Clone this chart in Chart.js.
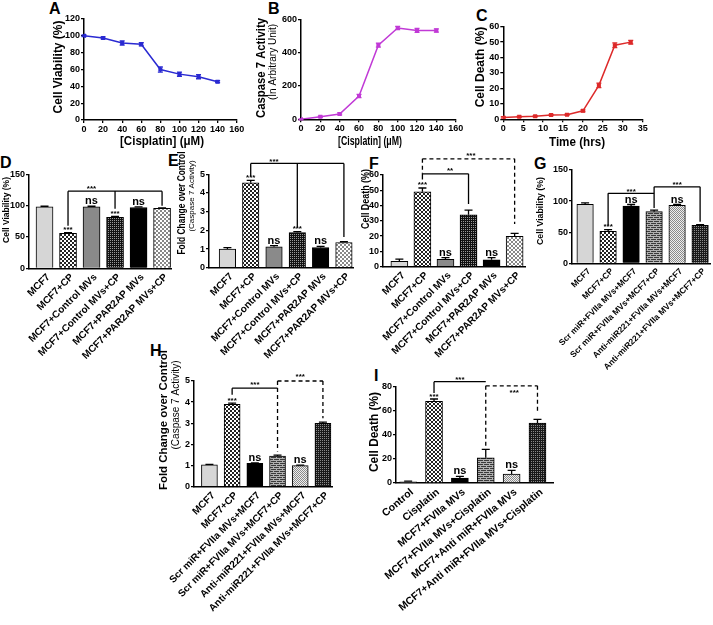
<!DOCTYPE html>
<html>
<head>
<meta charset="utf-8">
<script src="https://cdn.jsdelivr.net/npm/chart.js@4"></script>
<style>
  body { margin: 0; background: #fff; width: 713px; height: 625px; position: relative; overflow: hidden; }
  .let { position: absolute; font: bold 16px "Liberation Sans", Arial, sans-serif; line-height: 16px; }
</style>
</head>
<body>
<div class="let" style="left:49px;top:1px">A</div>
<div class="let" style="left:268px;top:1px">B</div>
<div class="let" style="left:476px;top:8px">C</div>
<div class="let" style="left:0px;top:155px">D</div>
<div class="let" style="left:168px;top:153px">E</div>
<div class="let" style="left:369px;top:156px">F</div>
<div class="let" style="left:534px;top:156px">G</div>
<div class="let" style="left:150px;top:343px">H</div>
<div class="let" style="left:374px;top:368px">I</div>
<script>
// dose / time curves (A-C)
const doseA = [0, 20, 40, 60, 80, 100, 120, 140];
const viabA = [100, 97.5, 91.5, 90, 60, 54.5, 51.5, 45.5];
const viabAErr = [1, 1.2, 2.5, 2, 3, 2.5, 2.5, 1.2];
const caspB = [0, 15, 32, 140, 445, 548, 533, 533];
const caspBErr = [3, 4, 6, 10, 12, 10, 12, 10];
const timeC = [0, 4, 8, 12, 16, 20, 24, 28, 32];
const deathC = [1.2, 1.6, 2.0, 2.8, 3.0, 5.5, 22, 48, 50];
const deathCErr = [0.5, 0.4, 0.4, 0.4, 0.4, 0.6, 1.5, 1.5, 1.2];

// PAR2AP experiments (D-F)
const labelsDEF = ["MCF7", "MCF7+CP", "MCF7+Control MVs", "MCF7+Control MVs+CP", "MCF7+PAR2AP MVs", "MCF7+PAR2AP MVs+CP"];
const viabD = [98, 56, 98, 81.5, 97, 95.5];
const viabDErr = [1, 1, 1, 1.5, 1, 1];
const sigD = ["", "***", "ns", "***", "ns", ""];
const foldE = [1.0, 4.55, 1.12, 1.88, 1.08, 1.35];
const foldEErr = [0.08, 0.12, 0.06, 0.05, 0.06, 0.04];
const sigE = ["", "***", "ns", "***", "ns", ""];
const deathF = [3.5, 49, 4.8, 34, 4.5, 19.8];
const deathFErr = [1.5, 2.5, 1.2, 3, 1.5, 2];
const sigF = ["", "***", "ns", "", "ns", ""];

// miR221 experiments (G-I)
const labelsGH = ["MCF7", "MCF7+CP", "Scr miR+FVIIa MVs+MCF7", "Scr miR+FVIIa MVs+MCF7+CP", "Anti-miR221+FVIIa MVs+MCF7", "Anti-miR221+FVIIa MVs+MCF7+CP"];
const viabG = [95, 51.5, 92, 83, 93, 61];
const viabGErr = [2, 2.5, 2.5, 2.5, 1.5, 1];
const sigG = ["", "***", "ns", "", "ns", ""];
const foldH = [1.03, 3.9, 1.1, 1.45, 1.0, 3.0];
const foldHErr = [0.03, 0.05, 0.03, 0.04, 0.02, 0.05];
const sigH = ["", "***", "ns", "", "ns", ""];
const labelsI = ["Control", "Cisplatin", "MCF7+FVIIa MVs", "MCF7+FVIIa MVs+Cisplatin", "MCF7+Anti miR+FVIIa MVs", "MCF7+Anti miR+FVIIa MVs+Cisplatin"];
const deathI = [1, 68, 4, 21, 7.5, 50];
const deathIErr = [0.5, 2, 1.5, 7, 3, 3];
const sigI = ["", "***", "ns", "", "ns", ""];

// significance brackets: pts = [bar index, value where the drop ends]
const bracketsD = [{ y: 123, pts: [[1, 68], [3, 95], [5, 100]], label: "***", at: 2, ly: 128 }];
const bracketsE = [{ y: 5.58, pts: [[1, 4.9], [3, 2.15], [5, 1.65]], label: "***", at: 2, ly: 5.7 }];
const bracketsF = [
  { y: 60.8, pts: [[1, 57], [3, 41]], label: "**", at: 2.2, ly: 63 },
  { y: 70.6, pts: [[1, 60.8], [5, 28]], label: "***", at: 3.1, ly: 73, dashed: true }
];
const bracketsG = [
  { y: 112.5, pts: [[1, 61], [3, 112.5]], label: "***", at: 2, ly: 117 },
  { y: 123, pts: [[3, 89], [5, 67]], label: "***", at: 4, ly: 127 }
];
const bracketsH = [
  { y: 4.66, pts: [[1, 4.35], [3, 4.66]], label: "***", at: 2, ly: 4.85 },
  { y: 5.0, pts: [[3, 1.66], [5, 3.24]], label: "***", at: 4, ly: 5.25, dashed: true }
];
const bracketsI = [
  { y: 84.4, pts: [[1, 75], [3, 84.4]], label: "***", at: 2, ly: 87 },
  { y: 81, pts: [[3, 30], [5, 59]], label: "***", at: 4.1, ly: 76, dashed: true }
];

Chart.defaults.font.family = '"Liberation Sans", Arial, sans-serif';
Chart.defaults.color = "#000";

function pattern(w, h, bg, fg, cells) {
  const c = document.createElement("canvas");
  c.width = w; c.height = h;
  const g = c.getContext("2d");
  g.fillStyle = bg; g.fillRect(0, 0, w, h);
  g.fillStyle = fg;
  cells.forEach(r => g.fillRect(r[0], r[1], r[2], r[3]));
  return g.createPattern(c, "repeat");
}
const checker = pattern(4, 4, "#fff", "#222", [[0, 0, 2, 2], [2, 2, 2, 2]]);
const darkChecker = pattern(4, 4, "#111", "#999", [[0, 0, 1, 1], [2, 2, 1, 1], [2, 0, 1, 1], [0, 2, 1, 1]]);
const lightChecker = pattern(4, 4, "#fff", "#888", [[0, 0, 2, 2], [2, 2, 2, 2]]);
const brick = pattern(6, 4, "#3a3a3a", "#b0b0b0", [[0, 0, 6, 1], [0, 1, 1, 1], [0, 2, 6, 1], [3, 3, 1, 1]]);
const lightDots = pattern(2, 2, "#eee", "#8a8a8a", [[0, 0, 1, 1], [1, 1, 1, 1]]);
const darkDots = pattern(2, 2, "#1a1a1a", "#8a8a8a", [[0, 0, 1, 1]]);

const fillsDEF = ["#d6d6d6", checker, "#8a8a8a", darkChecker, "#000", lightChecker];
const fillsGHI = ["#d6d6d6", checker, "#000", brick, lightDots, darkDots];

const decor = {
  id: "decor",
  afterDraw(chart, args, o) {
    const ctx = chart.ctx;
    const xs = chart.scales.x, ys = chart.scales.y;
    const ox = o.box[0], oy = o.box[1];
    ctx.save();
    chart.data.datasets.forEach((ds, di) => {
      const meta = chart.getDatasetMeta(di);
      meta.data.forEach((el, i) => {
        const e = ds.errs[i], v = ds.data[i].y;
        const yT = ys.getPixelForValue(v + e);
        const yB = ys.getPixelForValue(o.bars ? v : v - e);
        ctx.strokeStyle = o.bars ? "#000" : ds.borderColor;
        ctx.lineWidth = 1.3;
        ctx.setLineDash([]);
        ctx.beginPath();
        ctx.moveTo(el.x, yB); ctx.lineTo(el.x, yT);
        ctx.moveTo(el.x - o.cap, yT); ctx.lineTo(el.x + o.cap, yT);
        if (!o.bars) { ctx.moveTo(el.x - o.cap, yB); ctx.lineTo(el.x + o.cap, yB); }
        ctx.stroke();
        const s = o.sig ? o.sig[i] : "";
        if (s) {
          ctx.fillStyle = "#000";
          ctx.textAlign = "center";
          ctx.textBaseline = "alphabetic";
          if (s === "ns") { ctx.font = 'bold 11px "Liberation Sans", Arial'; ctx.fillText(s, el.x, yT - 2); }
          else { ctx.font = 'bold 8px "Liberation Sans", Arial'; ctx.fillText(s, el.x, yT - 0.5); }
        }
      });
    });
    (o.brackets || []).forEach(b => {
      ctx.strokeStyle = "#000"; ctx.lineWidth = 1.3;
      ctx.setLineDash(b.dashed ? [4, 3] : []);
      const yb = ys.getPixelForValue(b.y);
      ctx.beginPath();
      ctx.moveTo(xs.getPixelForValue(b.pts[0][0]), yb);
      ctx.lineTo(xs.getPixelForValue(b.pts[b.pts.length - 1][0]), yb);
      b.pts.forEach(p => {
        const px = xs.getPixelForValue(p[0]);
        ctx.moveTo(px, yb); ctx.lineTo(px, ys.getPixelForValue(p[1]));
      });
      ctx.stroke();
      ctx.setLineDash([]);
      ctx.fillStyle = "#000";
      ctx.font = 'bold 8px "Liberation Sans", Arial';
      ctx.textAlign = "center"; ctx.textBaseline = "alphabetic";
      ctx.fillText(b.label, xs.getPixelForValue(b.at), ys.getPixelForValue(b.ly) + 3);
    });
    (o.titles || []).forEach(t => {
      ctx.save();
      ctx.translate(t.x - ox, t.y - oy);
      if (t.rot) ctx.rotate(-Math.PI / 2);
      ctx.fillStyle = "#000";
      ctx.font = t.font + ' "Liberation Sans", Arial';
      ctx.textAlign = "center"; ctx.textBaseline = "middle";
      ctx.fillText(t.text, 0, 0, t.w);
      ctx.restore();
    });
    ctx.restore();
  }
};

function yAxis(max, step) {
  return {
    type: "linear", min: 0, max: max, offset: false,
    ticks: { stepSize: step, padding: 1, autoSkip: false, maxRotation: 0, font: { size: 9, weight: "bold" }, color: "#000" },
    grid: { display: true, drawOnChartArea: false, drawTicks: true, tickLength: 3, color: "#000", lineWidth: 1.3 },
    border: { display: true, color: "#000", width: 1.5 }
  };
}
function xLin(max, step) {
  return yAxis(max, step);
}
function xCat(labels, min, max, rot, size) {
  return {
    type: "linear", min: min, max: max, offset: false,
    afterBuildTicks: s => { s.ticks = labels.map((_, i) => ({ value: i })); },
    ticks: {
      autoSkip: false, minRotation: rot, maxRotation: rot, padding: 3, labelOffset: 4,
      font: { size: size, weight: "bold" }, color: "#000",
      callback: v => labels[Math.round(v)]
    },
    grid: { display: false, drawTicks: false, offset: false },
    border: { display: true, color: "#000", width: 1.5 }
  };
}

// box = canvas [left, top, w, h]; area = plot edges in page px
function panel(box, area, cfg) {
  const c = document.createElement("canvas");
  c.width = box[2]; c.height = box[3];
  c.style.cssText = "position:absolute;left:" + box[0] + "px;top:" + box[1] + "px;width:" + box[2] + "px;height:" + box[3] + "px";
  document.body.appendChild(c);
  const yW = area.l - box[0];
  const xH = box[1] + box[3] - area.b;
  cfg.options.responsive = false;
  cfg.options.animation = false;
  cfg.options.devicePixelRatio = 1;
  cfg.options.layout = { padding: { left: 0, top: area.t - box[1], right: box[0] + box[2] - area.r, bottom: 0 } };
  cfg.options.scales.y.afterFit = s => { s.width = yW; s.paddingTop = 0; s.paddingBottom = 0; };
  cfg.options.scales.x.afterFit = s => { s.height = xH; s.paddingLeft = 0; s.paddingRight = 0; };
  cfg.options.plugins = cfg.options.plugins || {};
  cfg.options.plugins.legend = { display: false };
  cfg.options.plugins.tooltip = { enabled: false };
  cfg.options.plugins.decor.box = box;
  cfg.plugins = [decor];
  return new Chart(c, cfg);
}

function lineCfg(xv, yv, ev, color, xAx, yAx, titles) {
  return {
    type: "line",
    data: { datasets: [{
      data: xv.map((x, i) => ({ x: x, y: yv[i] })), errs: ev,
      borderColor: color, backgroundColor: color, borderWidth: 1.5,
      pointStyle: "rect", pointRadius: 1.8, pointBackgroundColor: color, pointBorderColor: color, tension: 0
    }] },
    options: { scales: { x: xAx, y: yAx }, plugins: { decor: { cap: 2.5, titles: titles } } }
  };
}

function barCfg(vals, errs, fills, xAx, yAx, thick, sig, brackets, titles) {
  return {
    type: "bar",
    data: { datasets: [{
      data: vals.map((v, i) => ({ x: i, y: v })), errs: errs,
      backgroundColor: fills, borderColor: "#000", borderWidth: 1, barThickness: thick
    }] },
    options: { scales: { x: xAx, y: yAx }, plugins: { decor: { bars: true, cap: 4, sig: sig, brackets: brackets, titles: titles } } }
  };
}

// A
panel([40, 0, 210, 150], { l: 84, r: 236.7, t: 19, b: 120 },
  lineCfg(doseA, viabA, viabAErr, "#2a2ad2", xLin(160, 20), yAxis(120, 20), [
    { text: "Cell Viability (%)", x: 59, y: 67, rot: true, font: "bold 12px", w: 93 },
    { text: "[Cisplatin] (\u03bcM)", x: 162, y: 142, font: "bold 12px", w: 84 }
  ]));
// B
panel([250, 0, 215, 150], { l: 301, r: 455.7, t: 19.3, b: 119.3 },
  lineCfg(doseA, caspB, caspBErr, "#c13ad6", xLin(160, 20), yAxis(600, 200), [
    { text: "Caspase 7 Activity", x: 262, y: 68, rot: true, font: "bold 12px", w: 100 },
    { text: "(In Arbitrary Unit)", x: 273, y: 62, rot: true, font: "10px", w: 76 },
    { text: "[Cisplatin] (\u03bcM)", x: 370, y: 142, font: "bold 12px", w: 64 }
  ]));
// C
panel([470, 0, 185, 150], { l: 503.3, r: 642.7, t: 26.7, b: 119.3 },
  lineCfg(timeC, deathC, deathCErr, "#dd2a2a", xLin(35, 5), yAxis(60, 10), [
    { text: "Cell Death (%)", x: 481, y: 67, rot: true, font: "bold 12px", w: 85 },
    { text: "Time (hrs)", x: 577, y: 143, font: "bold 12px", w: 56 }
  ]));
// D
panel([0, 150, 178, 222], { l: 29, r: 171, t: 174.3, b: 268.3 },
  barCfg(viabD, viabDErr, fillsDEF, xCat(labelsDEF, -0.66, 5.38, 45, 10), yAxis(150, 50), 17, sigD, bracketsD, [
    { text: "Cell Viability (%)", x: 7, y: 210, rot: true, font: "bold 8.5px", w: 70 }
  ]));
// E
panel([170, 150, 190, 222], { l: 209, r: 353, t: 174.3, b: 267.7 },
  barCfg(foldE, foldEErr, fillsDEF, xCat(labelsDEF, -0.79, 5.39, 45, 10), yAxis(5, 1), 16.5, sigE, bracketsE, [
    { text: "Fold Change over Control", x: 182, y: 203, rot: true, font: "bold 10px", w: 103 },
    { text: "(Caspase 7 Activity)", x: 192, y: 196, rot: true, font: "8px", w: 77 }
  ]));
// F
panel([355, 145, 180, 227], { l: 383, r: 525, t: 175, b: 266.7 },
  barCfg(deathF, deathFErr, fillsDEF, xCat(labelsDEF, -0.71, 5.45, 45, 10), yAxis(60, 10), 17, sigF, bracketsF, [
    { text: "Cell Death (%)", x: 366, y: 199, rot: true, font: "bold 10px", w: 60 }
  ]));
// G
panel([530, 150, 183, 235], { l: 572, r: 710, t: 170, b: 263.3 },
  barCfg(viabG, viabGErr, fillsGHI, xCat(labelsGH, -0.57, 5.43, 45, 8.5), yAxis(150, 50), 16.5, sigG, bracketsG, [
    { text: "Cell Viability (%)", x: 541, y: 211, rot: true, font: "bold 9px", w: 68 }
  ]));
// H
panel([0, 340, 345, 285], { l: 194, r: 332, t: 381, b: 486.7 },
  barCfg(foldH, foldHErr, fillsGHI, xCat(labelsGH, -0.68, 5.4, 45, 10), yAxis(5, 1), 16, sigH, bracketsH, [
    { text: "Fold Change over Control", x: 164, y: 420, rot: true, font: "bold 11.5px", w: 140 },
    { text: "(Caspase 7 Activity)", x: 176, y: 405, rot: true, font: "10px", w: 90 }
  ]));
// I
panel([345, 355, 368, 270], { l: 396, r: 553, t: 387, b: 483 },
  barCfg(deathI, deathIErr, fillsGHI, xCat(labelsI, -0.47, 5.6, 40, 10.5), yAxis(80, 20), 17, sigI, bracketsI, [
    { text: "Cell Death (%)", x: 375, y: 432, rot: true, font: "bold 12px", w: 80 }
  ]));
</script>
</body>
</html>
